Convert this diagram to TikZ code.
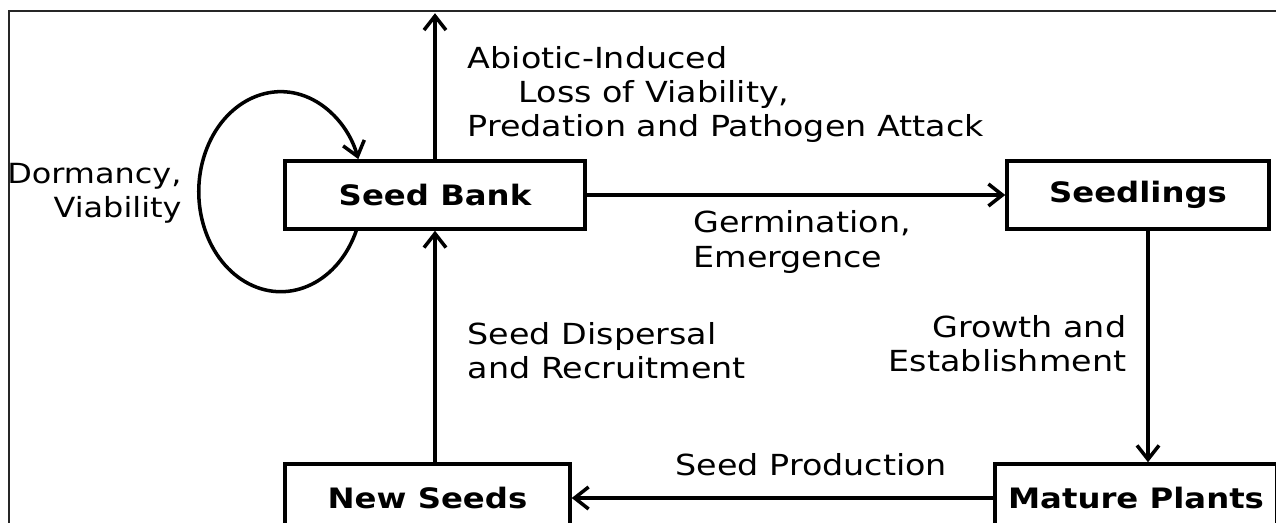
\documentclass[tikz,border=0pt]{standalone}
\usepackage{fontspec}
\setmainfont{DejaVu Sans}[FakeStretch=1.15]
\newfontfamily\boxfont{DejaVu Sans}[FakeStretch=1.15]
\usetikzlibrary{positioning}
\usetikzlibrary{calc}
\usetikzlibrary{arrows.meta}
\tikzset{every picture/.style={line width=2pt}}

\begin{document}
\begin{tikzpicture}[>={Straight Barb[length=2.8mm,width=4.4mm]},
  box/.style={draw, minimum height=1.36cm, font=\boxfont\bfseries\fontsize{16}{19}\selectfont},
  lbl/.style={inner sep=0pt, align=left, font=\fontsize{16.5}{19.5}\selectfont}]
\useasboundingbox (0,0) rectangle (25.52,-10.46);
\clip (0,0) rectangle (25.52,-10.46);
\draw[black!85, line width=0.9pt] (0.18,-0.22) rectangle (27,-12);
\node (sb) at (8.70,-3.9) [minimum width=6cm, box] {Seed Bank};
\node (sl) at ($(sb)+(14.06,0)$) [minimum width=5.24cm, box] {Seedlings};
\node (mp) at ($(sl)+(-0.04,-6.06)$) [minimum width=5.64cm, minimum height=1.2cm, box] {Mature Plants};
\node (ns) at ($(sb)+(-0.15,-6.06)$) [minimum width=5.7cm, minimum height=1.2cm, box] {New Seeds};
\node (dv) at ($(sb.west)+(-2.0,0.04)$) [anchor=east, lbl, align=right, font=\fontsize{15.8}{19.5}\selectfont] {Dormancy,\\Viability};
\node (ab) at ($(sb.north)+(0.62,2.3)$) [anchor=north west, lbl] {Abiotic-Induced\\\hspace*{1.02cm}Loss of Viability,\\Predation and Pathogen Attack};
\node (ge) at ($(sb.east)+(2.1,-0.28)$) [anchor=north west, lbl] {Germination,\\Emergence};
\node (sd) at ($(sb.south)+(0.62,-1.8)$) [anchor=north west, lbl] {Seed Dispersal\\and Recruitment};
\node (gr) at ($(sl.south)+(-0.2,-1.66)$) [anchor=north east, lbl, align=right] {Growth and\\Establishment};
\node (sp) at ($(mp.west)+(-3.64,0.66)$) [lbl] {Seed Production};
\coordinate (out) at ($(sb.north)+(0,2.92)$);
\coordinate (lp) at ($(sb.south west)+(1.46,0)$);
\coordinate (gt) at ($(sl.south)+(0.2,0)$);
\draw[->] (sb.north) -- (out);
\draw[->] (lp) arc[start angle=-23, end angle=-341, x radius=1.64cm, y radius=2cm];
\draw[->] (sb.east) -- (sl.west);
\draw[->] (gt) -- (gt |- mp.north);
\draw[->] (mp.west) -- (ns.east);
\draw[->] (ns.north -| sb) -- (sb.south);
\end{tikzpicture}
\end{document}
